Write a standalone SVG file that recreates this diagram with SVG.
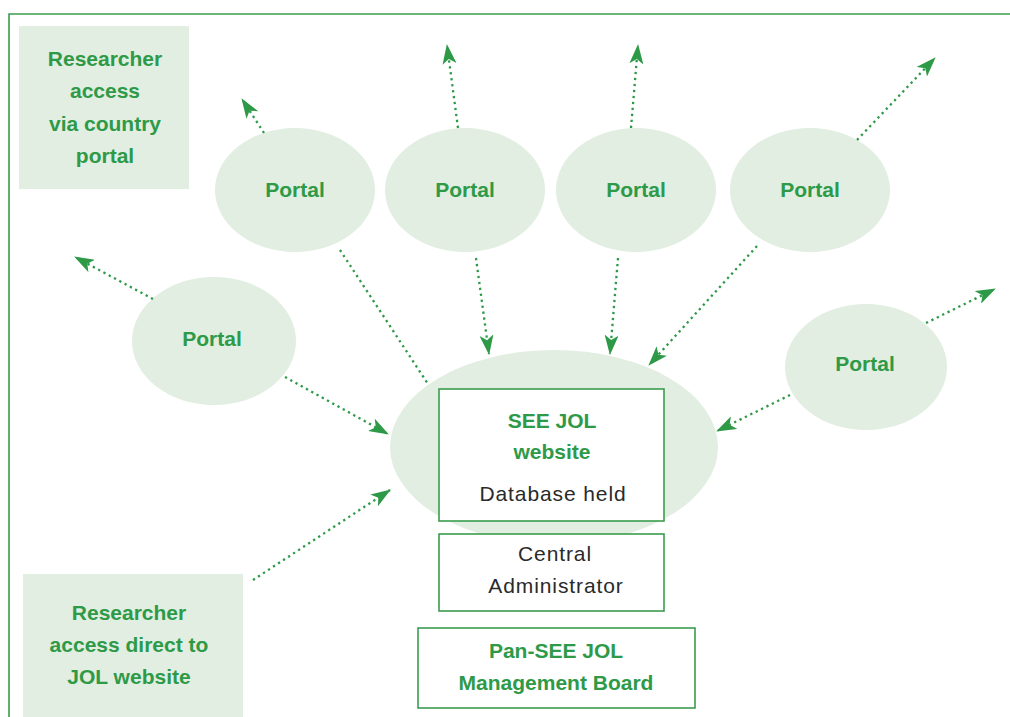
<svg xmlns="http://www.w3.org/2000/svg" width="1010" height="717" viewBox="0 0 1010 717">
<style>
.fill{fill:#e1eee1}
.box{fill:#fff;stroke:#3a9d4f;stroke-width:1.6}
.g{font-family:"Liberation Sans",Arial,sans-serif;font-weight:bold;font-size:21px;fill:#2e9a48;text-anchor:middle}
.d{font-family:"Liberation Sans",Arial,sans-serif;font-size:21px;letter-spacing:0.9px;fill:#2a2a2a;text-anchor:middle}
.c{fill:none;stroke:#2e9a48;stroke-width:2.3;stroke-dasharray:2.3 3.7}
</style>
<defs>
<marker id="ah" markerUnits="userSpaceOnUse" viewBox="0 0 20 14" refX="19" refY="7" markerWidth="20" markerHeight="14" orient="auto">
<path d="M0,0 L20,7 L0,14 L5,7 z" fill="#2e9a48"/>
</marker>
</defs>
<rect width="1010" height="717" fill="#fff"/>
<g id="frame" fill="none" stroke="#3a9d4f" stroke-width="1.6">
<path d="M9,717 V14 H1010"/>
</g>
<g id="central">
<ellipse class="fill" cx="554" cy="447" rx="164" ry="97"/>
</g>
<g id="researcher-portal">
<rect class="fill" x="19" y="26" width="170" height="163"/>
<text class="g" x="105" y="66">Researcher</text>
<text class="g" x="105" y="98">access</text>
<text class="g" x="105" y="131">via country</text>
<text class="g" x="105" y="163">portal</text>
</g>
<g id="researcher-direct">
<rect class="fill" x="23" y="574" width="220" height="143"/>
<text class="g" x="129" y="620">Researcher</text>
<text class="g" x="129" y="652">access direct to</text>
<text class="g" x="129" y="684">JOL website</text>
</g>
<g id="portal1"><ellipse class="fill" cx="295" cy="190" rx="80" ry="62"/><text class="g" x="295" y="197">Portal</text></g>
<g id="portal2"><ellipse class="fill" cx="465" cy="190" rx="80" ry="62"/><text class="g" x="465" y="197">Portal</text></g>
<g id="portal3"><ellipse class="fill" cx="636" cy="190" rx="80" ry="62"/><text class="g" x="636" y="197">Portal</text></g>
<g id="portal4"><ellipse class="fill" cx="810" cy="190" rx="80" ry="62"/><text class="g" x="810" y="197">Portal</text></g>
<g id="portal5"><ellipse class="fill" cx="214" cy="341" rx="82" ry="64"/><text class="g" x="212" y="346">Portal</text></g>
<g id="portal6"><ellipse class="fill" cx="866" cy="367" rx="81" ry="63"/><text class="g" x="865" y="371">Portal</text></g>
<g id="website">
<rect class="box" x="439" y="389" width="225" height="132"/>
<text class="g" x="552" y="428">SEE JOL</text>
<text class="g" x="552" y="459">website</text>
<text class="d" x="553" y="501">Database held</text>
</g>
<g id="admin">
<rect class="box" x="439" y="534" width="225" height="77"/>
<text class="d" x="555" y="561">Central</text>
<text class="d" x="556" y="593">Administrator</text>
</g>
<g id="board">
<rect class="box" x="418" y="628" width="277" height="80"/>
<text class="g" x="556" y="658">Pan-SEE JOL</text>
<text class="g" x="556" y="690">Management Board</text>
</g>
<g id="connectors">
<line class="c" x1="264" y1="133" x2="242" y2="99" marker-end="url(#ah)"/>
<line class="c" x1="458" y1="128" x2="447" y2="45" marker-end="url(#ah)"/>
<line class="c" x1="631" y1="128" x2="638" y2="45" marker-end="url(#ah)"/>
<line class="c" x1="857" y1="140" x2="935" y2="58" marker-end="url(#ah)"/>
<line class="c" x1="153" y1="299" x2="75" y2="257" marker-end="url(#ah)"/>
<line class="c" x1="926" y1="323" x2="995" y2="289" marker-end="url(#ah)"/>
<line class="c" x1="790" y1="395" x2="717" y2="431" marker-end="url(#ah)"/>
<line class="c" x1="285" y1="377" x2="388" y2="434" marker-end="url(#ah)"/>
<line class="c" x1="340" y1="250" x2="428" y2="384"/>
<line class="c" x1="476" y1="258" x2="489" y2="354" marker-end="url(#ah)"/>
<line class="c" x1="618" y1="258" x2="610" y2="354" marker-end="url(#ah)"/>
<line class="c" x1="757" y1="246" x2="649" y2="365" marker-end="url(#ah)"/>
<line class="c" x1="253" y1="580" x2="390" y2="490" marker-end="url(#ah)"/>
</g>
</svg>
